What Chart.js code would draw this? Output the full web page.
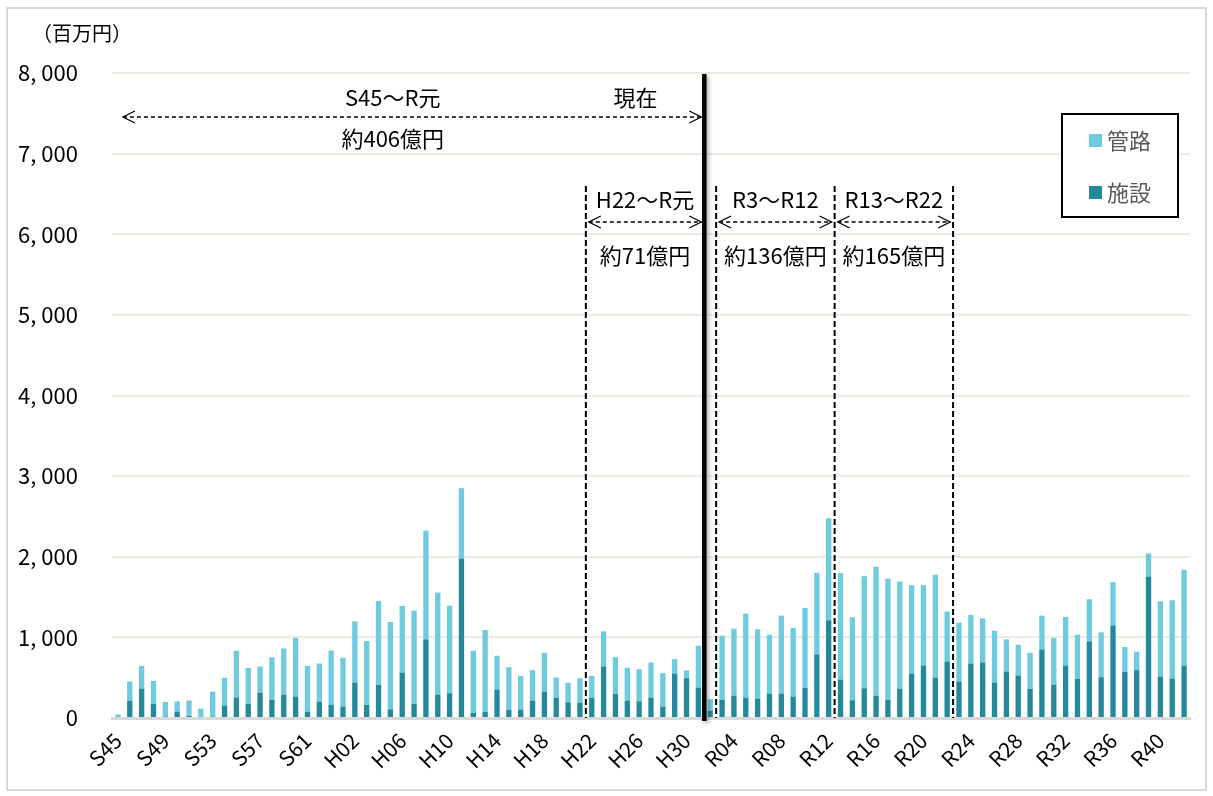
<!DOCTYPE html>
<html><head><meta charset="utf-8">
<script src="https://cdn.jsdelivr.net/npm/chart.js@4"></script>
<style>html,body{margin:0;padding:0;background:#fff;}#wrap{position:absolute;left:0;top:0;width:1213px;height:796px;}</style>
</head><body><div id="wrap"><canvas id="c" width="1213" height="796"></canvas></div>
<script>
const categories = ['S45','S46','S47','S48','S49','S50','S51','S52','S53','S54','S55','S56','S57','S58','S59','S60','S61','S62','S63',
'H01','H02','H03','H04','H05','H06','H07','H08','H09','H10','H11','H12','H13','H14','H15','H16','H17','H18','H19','H20','H21','H22','H23','H24','H25','H26','H27','H28','H29','H30',
'R01','R02','R03','R04','R05','R06','R07','R08','R09','R10','R11','R12','R13','R14','R15','R16','R17','R18','R19','R20','R21','R22','R23','R24','R25','R26','R27','R28','R29','R30','R31','R32','R33','R34','R35','R36','R37','R38','R39','R40','R41','R42'];

// 施設 (facilities), 百万円
const facilities = [15,215,365,175,20,80,25,12,17,155,
255,178,315,228,290,266,79,203,166,141,
440,162,411,108,564,174,975,290,307,1979,
62,75,353,104,104,216,328,249,195,191,
249,639,299,216,207,253,141,552,494,378,
91,228,278,253,241,303,303,266,373,788,
1212,477,220,369,274,228,365,552,651,502,
701,452,676,689,440,577,527,361,851,415,
651,485,950,506,1149,573,593,1755,515,490,
651];

// 管路 (pipes), 百万円
const pipes = [30,237,282,286,179,127,191,104,311,343,
579,444,324,523,573,726,568,473,672,606,
759,792,1041,1083,826,1158,1349,1266,1087,872,
772,1016,419,527,419,377,481,253,241,303,
274,436,456,406,399,436,415,178,95,518,
141,793,830,1042,859,730,967,850,992,1013,
1265,1320,1029,1390,1602,1502,1328,1095,996,1274,
619,731,602,548,643,398,382,448,419,577,
602,548,523,556,536,307,229,286,933,971,
1187];

const yTickValues = [0,1000,2000,3000,4000,5000,6000,7000,8000];
const seriesNames = ['施設','管路'];
const seriesColors = ['#25899B','#6FCCDE'];
const unitLabel = '（百万円）';

const overallLabel = 'S45～R元';
const overallAmount = '約406億円';
const nowLabel = '現在';
const nowBoundary = ['R01','R02'];
const periodLabels = ['H22～R元','R3～R12','R13～R22'];
const periodAmounts = ['約71億円','約136億円','約165億円'];
const periodStarts = ['H22','R03','R13'];
const periodEnds = ['R01','R12','R22'];

const FONT = '"Noto Sans CJK JP", "Noto Sans", sans-serif';
Chart.defaults.font.family = FONT;
Chart.defaults.color = '#000';

const annot = {
  id: 'annot',
  afterDatasetsDraw(chart) {
    const {ctx, chartArea: ca, scales: {x, y}} = chart;
    const idx = l => categories.indexOf(l);
    const half = (x.getPixelForValue(1) - x.getPixelForValue(0)) / 2;
    const leftEdge = l => x.getPixelForValue(idx(l)) - half;
    const rightEdge = l => x.getPixelForValue(idx(l)) + half;
    const nowX = leftEdge(nowBoundary[1]);

    const arrow = (x1, x2, yy) => {
      ctx.save();
      ctx.strokeStyle = '#000'; ctx.lineWidth = 1.3;
      ctx.setLineDash([4, 3]);
      ctx.beginPath(); ctx.moveTo(x1, yy); ctx.lineTo(x2, yy); ctx.stroke();
      ctx.setLineDash([]);
      ctx.beginPath();
      ctx.moveTo(x1 + 12, yy - 6); ctx.lineTo(x1, yy); ctx.lineTo(x1 + 12, yy + 6);
      ctx.moveTo(x2 - 12, yy - 6); ctx.lineTo(x2, yy); ctx.lineTo(x2 - 12, yy + 6);
      ctx.stroke();
      ctx.restore();
    };
    const text = (t, tx, ty, size) => {
      ctx.save();
      ctx.font = size + 'px ' + FONT;
      ctx.fillStyle = '#000'; ctx.textAlign = 'center'; ctx.textBaseline = 'middle';
      ctx.fillText(t, tx, ty);
      ctx.restore();
    };

    // dashed verticals
    const vlines = [leftEdge(periodStarts[0]), leftEdge(periodStarts[1]), leftEdge(periodStarts[2]), rightEdge(periodEnds[2])];
    ctx.save();
    ctx.strokeStyle = '#000'; ctx.lineWidth = 2; ctx.setLineDash([6, 3]);
    vlines.forEach(vx => {
      ctx.beginPath(); ctx.moveTo(vx, y.getPixelForValue(6600)); ctx.lineTo(vx, y.getPixelForValue(0)); ctx.stroke();
    });
    ctx.restore();

    // thick "now" line
    ctx.save();
    ctx.shadowColor = 'rgba(0,0,0,0.35)'; ctx.shadowBlur = 4; ctx.shadowOffsetX = 2; ctx.shadowOffsetY = 2;
    ctx.strokeStyle = '#000'; ctx.lineWidth = 4.5;
    ctx.beginPath(); ctx.moveTo(nowX, ca.top + 1); ctx.lineTo(nowX, ca.bottom + 3); ctx.stroke();
    ctx.restore();

    // overall annotation
    text(overallLabel, x.getPixelForValue(23.2), y.getPixelForValue(7700), 22);
    text(nowLabel, x.getPixelForValue(43.7), y.getPixelForValue(7700), 22);
    arrow(x.getPixelForValue(0) + 5, nowX - 3, y.getPixelForValue(7454));
    text(overallAmount, x.getPixelForValue(23.2), y.getPixelForValue(7181), 22);

    // period annotations
    const bounds = [[vlines[0], nowX], [vlines[1], vlines[2]], [vlines[2], vlines[3]]];
    bounds.forEach((b, i) => {
      const cx = (b[0] + b[1]) / 2;
      text(periodLabels[i], cx, y.getPixelForValue(6425), 22);
      arrow(b[0] + 3, b[1] - 3, y.getPixelForValue(6152));
      text(periodAmounts[i], cx, y.getPixelForValue(5730), 22);
    });
  },
  afterDraw(chart) {
    const {ctx, chartArea: ca} = chart;
    // outer frame
    ctx.save();
    ctx.strokeStyle = '#D9D9D9'; ctx.lineWidth = 2;
    ctx.strokeRect(7, 8, 1199, 782);
    // unit label
    ctx.font = '20px ' + FONT; ctx.fillStyle = '#000'; ctx.textBaseline = 'middle'; ctx.textAlign = 'left';
    ctx.fillText(unitLabel, 32, 33);
    // legend
    const bx = ca.right - 128, by = ca.top + 41, bw = 116, bh = 103;
    ctx.fillStyle = '#fff'; ctx.fillRect(bx, by, bw, bh);
    ctx.strokeStyle = '#000'; ctx.lineWidth = 2; ctx.strokeRect(bx, by, bw, bh);
    const items = [1, 0];
    items.forEach((di, k) => {
      const ds = chart.data.datasets[di];
      const iy = by + 27 + k * 52;
      ctx.fillStyle = ds.backgroundColor;
      ctx.fillRect(bx + 27, iy - 7, 13, 13);
      ctx.fillStyle = '#595959'; ctx.font = '22px ' + FONT; ctx.textAlign = 'left'; ctx.textBaseline = 'middle';
      ctx.fillText(ds.label, bx + 45, iy);
    });
    ctx.restore();
  }
};

new Chart(document.getElementById('c'), {
  type: 'bar',
  data: {
    labels: categories,
    datasets: [
      {label: seriesNames[0], data: facilities, backgroundColor: seriesColors[0], borderWidth: 0, barPercentage: 0.45, categoryPercentage: 1.0},
      {label: seriesNames[1], data: pipes, backgroundColor: seriesColors[1], borderWidth: 0, barPercentage: 0.45, categoryPercentage: 1.0}
    ]
  },
  options: {
    responsive: false,
    animation: false,
    layout: {padding: {left: 0, right: 23, top: 73, bottom: 0}},
    plugins: {legend: {display: false}, tooltip: {enabled: false}, title: {display: false}},
    scales: {
      x: {
        stacked: true,
        afterFit: s => { s.height = 78; },
        grid: {display: false, drawTicks: false},
        border: {display: true, color: '#D9D9D9', width: 3},
        ticks: {
          autoSkip: false, maxRotation: 45, minRotation: 45, padding: 10,
          font: {size: 21}, color: '#000',
          callback: (v, i) => (i % 4 === 0 ? categories[i] : '')
        }
      },
      y: {
        stacked: true, min: 0, max: 8000,
        afterFit: s => { s.width = 112; },
        afterBuildTicks: s => { s.ticks = yTickValues.map(v => ({value: v})); },
        grid: {color: '#EEECE2', lineWidth: 2, drawTicks: false},
        border: {display: false},
        ticks: {
          padding: 34, font: {size: 22}, color: '#000', crossAlign: 'near',
          callback: v => (v === 0 ? '0' : Math.floor(v / 1000) + ', ' + String(v % 1000).padStart(3, '0'))
        }
      }
    }
  },
  plugins: [annot]
});
</script>
</body></html>
